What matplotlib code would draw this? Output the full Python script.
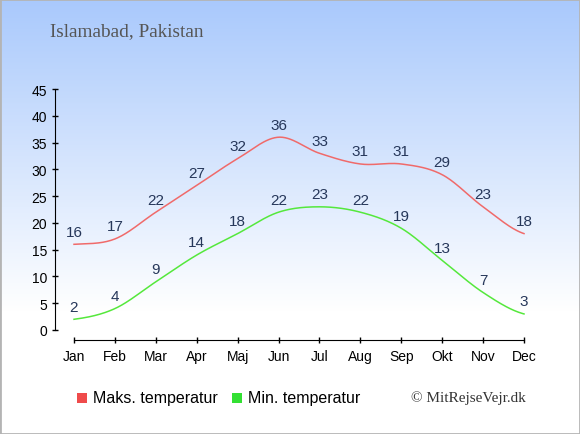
import numpy as np
import matplotlib.pyplot as plt
from matplotlib.patches import Rectangle
from matplotlib.colors import LinearSegmentedColormap

# Data
months = ["Jan", "Feb", "Mar", "Apr", "Maj", "Jun", "Jul", "Aug", "Sep", "Okt", "Nov", "Dec"]
max_temp = [16, 17, 22, 27, 32, 36, 33, 31, 31, 29, 23, 18]
min_temp = [2, 4, 9, 14, 18, 22, 23, 22, 19, 13, 7, 3]
yticks = [0, 5, 10, 15, 20, 25, 30, 35, 40, 45]

red = "#f06a6a"
green = "#55e83c"
label_col = "#26375a"


def smooth(y, steps=30):
    # Catmull-Rom spline through the points, for drawing only
    y = np.asarray(y, dtype=float)
    p = np.concatenate([[y[0]], y, [y[-1]]])
    xs, ys = [], []
    for i in range(len(y) - 1):
        p0, p1, p2, p3 = p[i], p[i + 1], p[i + 2], p[i + 3]
        t = np.linspace(0, 1, steps, endpoint=False)
        v = 0.5 * (2 * p1 + (-p0 + p2) * t + (2 * p0 - 5 * p1 + 4 * p2 - p3) * t ** 2
                   + (-p0 + 3 * p1 - 3 * p2 + p3) * t ** 3)
        xs.append(i + t)
        ys.append(v)
    xs.append([len(y) - 1])
    ys.append([y[-1]])
    return np.concatenate(xs), np.concatenate(ys)


plt.rcParams["font.family"] = ["Liberation Sans", "DejaVu Sans"]

fig = plt.figure(figsize=(5.8, 4.35), dpi=100)

# background gradient
bg = fig.add_axes([0, 0, 1, 1], zorder=-10)
grad = np.linspace(0, 1, 435)
grad = np.clip(grad / 0.72, 0, 1)[:, None]
cmap = LinearSegmentedColormap.from_list("bg", ["#a9c9fc", "#ffffff"])
bg.imshow(grad, aspect="auto", cmap=cmap, extent=[0, 1, 0, 1], origin="upper")
bg.add_patch(Rectangle((0, 0), 1, 1, fill=False, edgecolor="#b4b4b4", linewidth=2,
                       transform=bg.transAxes))
bg.set_axis_off()

ax = fig.add_axes([55 / 580, 1 - 341 / 435, 490 / 580, 256 / 435])
ax.patch.set_alpha(0)
x = np.arange(len(months))

sx, sy = smooth(max_temp)
ax.plot(sx, sy, color=red, linewidth=1.1)
sx, sy = smooth(min_temp)
ax.plot(sx, sy, color=green, linewidth=1.1)

for i in range(len(months)):
    ax.annotate(str(max_temp[i]), (x[i], max_temp[i]), xytext=(0, 6.2), textcoords="offset points",
                ha="center", va="baseline", fontsize=11, color=label_col)
    ax.annotate(str(min_temp[i]), (x[i], min_temp[i]), xytext=(0, 6.2), textcoords="offset points",
                ha="center", va="baseline", fontsize=11, color=label_col)

ppd = 241 / 45
ax.set_ylim(-10 / ppd, 45 + 5 / ppd)
ppm = 450 / 11
ax.set_xlim(-19 / ppm, 11 + 21 / ppm)

ax.set_xticks(x)
ax.set_xticklabels(months)
ax.set_yticks(yticks)
ax.spines["top"].set_visible(False)
ax.spines["right"].set_visible(False)
ax.spines["left"].set_bounds(0, 45)
ax.spines["bottom"].set_bounds(0, 11)
ax.tick_params(axis="both", direction="inout", length=5, width=1, labelsize=10, colors="black")
ax.tick_params(axis="x", pad=4)
ax.tick_params(axis="y", pad=3)

fig.text(50 / 580, 1 - 32 / 435, "Islamabad, Pakistan", fontsize=13.9, color="#555555",
         family=["Liberation Serif", "DejaVu Serif"], va="center")

# legend
fig.patches.append(Rectangle((77 / 580, 1 - 404 / 435), 10 / 580, 10 / 435, transform=fig.transFigure,
                             facecolor="#ef4b4b", edgecolor="none"))
fig.text(93 / 580, 1 - 399 / 435, "Maks. temperatur", fontsize=11.5, va="center")
fig.patches.append(Rectangle((232 / 580, 1 - 404 / 435), 10 / 580, 10 / 435, transform=fig.transFigure,
                             facecolor="#33e033", edgecolor="none"))
fig.text(248 / 580, 1 - 399 / 435, "Min. temperatur", fontsize=11.5, va="center")
fig.text(526 / 580, 1 - 398 / 435, "© MitRejseVejr.dk", fontsize=11, ha="right", va="center",
         family=["Liberation Serif", "DejaVu Serif"], color="#333333")

fig.savefig("out.png", dpi=100)
